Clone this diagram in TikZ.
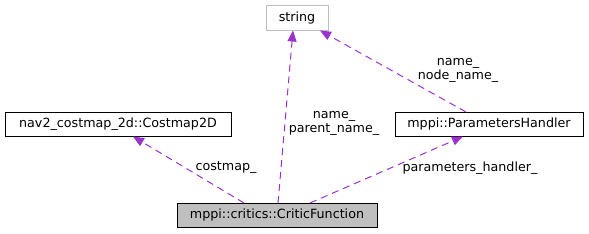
\documentclass[tikz,border=0pt]{standalone}
\usepackage{fontspec}
\setmainfont{DejaVu Sans}
\usetikzlibrary{arrows.meta}
\definecolor{edgepurple}{HTML}{9A32CD}
\definecolor{boxgray}{HTML}{BFBFBF}
\definecolor{lightborder}{HTML}{BFBFBF}
\begin{document}
\begin{tikzpicture}[x=1pt,y=-1pt,
  cls/.style={draw=black,fill=white,minimum height=24pt,inner xsep=4pt,font=\fontsize{12.7}{14}\selectfont,line width=1pt},
  edge/.style={draw=edgepurple,dashed,dash pattern=on 7pt off 5pt,line width=1pt,-{Triangle[length=11pt,width=9pt,fill=edgepurple]}},
  lbl/.style={font=\fontsize{12.7}{14}\selectfont,align=center,inner sep=0pt}]
\useasboundingbox (0,0) rectangle (589,233);
\node[cls,draw=lightborder,minimum width=62pt,minimum height=25pt] (str) at (297,17.5) {string};
\node[cls,minimum width=226pt] (cm) at (118,124) {nav2\_costmap\_2d::Costmap2D};
\node[cls,minimum width=188pt] (ph) at (489,124) {mppi::ParametersHandler};
\node[cls,fill=boxgray,minimum width=200pt] (cf) at (277,215) {mppi::critics::CriticFunction};
\coordinate (cfA) at (244,203);
\coordinate (cfB) at (278,203);
\coordinate (cfC) at (310,203);
\coordinate (phT) at (466,112);
\coordinate (cmB) at (133,136.5);
\coordinate (strB) at (293,30.5);
\coordinate (strR) at (320,30.5);
\coordinate (phB) at (463,136.5);
\draw[edge] (cfA) -- (cmB);
\draw[edge] (cfB) -- (strB);
\draw[edge] (cfC) -- (phB);
\draw[edge] (phT) -- (strR);
\node[lbl] (l1) at (226,168) {costmap\_};
\node[lbl] (l2) at (334,123) {name\_\\parent\_name\_};
\node[lbl] (l3) at (470,168) {parameters\_handler\_};
\node[lbl] (l4) at (458,70) {name\_\\node\_name\_};
\end{tikzpicture}
\end{document}
